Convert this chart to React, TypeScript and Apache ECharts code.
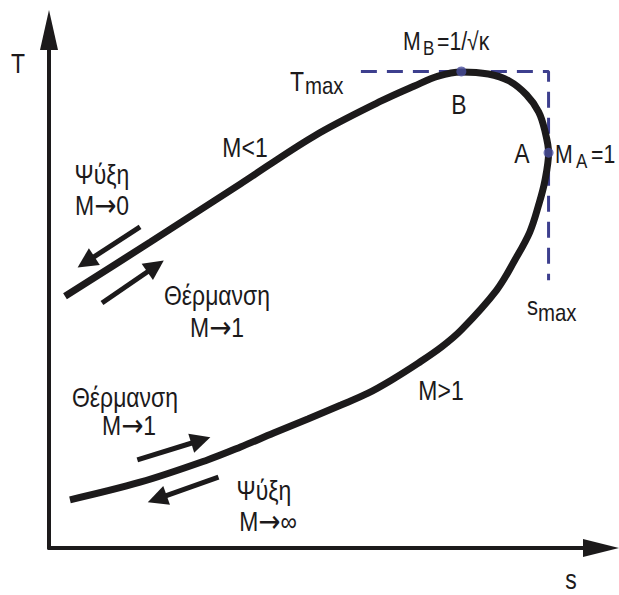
import React, { useEffect, useRef } from "react";
import * as echarts from "echarts";

// Rayleigh line in the T-s plane (s: 0..10, T: 0..10 in arbitrary units)
const curveS = [0.29, 1.84, 3.47, 4.8, 6.02, 6.62, 7.05, 7.47, 7.96, 8.33, 8.65, 8.87, 8.98, 9.05, 8.98, 8.87, 8.71, 8.44, 8.11, 7.47, 7.11, 6.69, 6.2, 5.78, 5.29, 4.69, 4.07, 3.47, 2.87, 1.65, 0.38];
const curveT = [4.86, 5.91, 7.03, 7.95, 8.63, 8.92, 9.11, 9.19, 9.15, 9.02, 8.75, 8.42, 8.07, 7.63, 7.07, 6.62, 6.1, 5.56, 4.98, 4.21, 3.88, 3.57, 3.24, 2.99, 2.76, 2.49, 2.22, 1.95, 1.7, 1.27, 0.93];

// Point B (max T) and point A (max s)
const pointB = [7.47, 9.2];
const pointA = [9.05, 7.63];

// dashed guide: Tmax horizontal, smax vertical
const guideS = [5.65, 9.05, 9.05];
const guideT = [9.2, 9.2, 5.17];

// process arrows: [sStart, TStart, sEnd, TEnd]
const arrowCoolUpper = [1.65, 6.2, 0.67, 5.52];
const arrowHeatUpper = [0.96, 4.73, 1.93, 5.44];
const arrowHeatLower = [1.6, 1.7, 2.75, 2.08];
const arrowCoolLower = [3.07, 1.37, 1.96, 0.95];

const FONT = "'Liberation Sans', Arial, sans-serif";
const INK = "#1c1a1b";
const NAVY = "#3d3f8e";
const SX = 0.85;

function txt(text: string, x: number, y: number, size: number, align = "center") {
  return {
    type: "text",
    x,
    y,
    scaleX: SX,
    silent: true,
    style: {
      text,
      fontSize: size,
      fontFamily: FONT,
      fill: INK,
      align,
      verticalAlign: "middle",
      rich: {
        ar: { fontFamily: "'DejaVu Sans'", fontSize: 31, fill: INK, verticalAlign: "middle" },
        n: { fontFamily: FONT, fontSize: size, fill: INK, verticalAlign: "middle" },
      },
    },
  };
}

function arrow(a: number[]) {
  return { coords: [[a[0], a[1]], [a[2], a[3]]] };
}

export default function App() {
  const ref = useRef<HTMLDivElement>(null);
  useEffect(() => {
    if (!ref.current) return;
    const chart = echarts.init(ref.current, null, { renderer: "svg" });
    const curve = curveS.map((s, i) => [s, curveT[i]]);
    const guide = guideS.map((s, i) => [s, guideT[i]]);
    const axisCommon = {
      type: "value",
      min: 0,
      max: 10,
      axisLine: {
        show: true,
        symbol: ["none", "triangle"],
        lineStyle: { color: INK, width: 4 },
      },
      axisTick: { show: false },
      axisLabel: { show: false },
      splitLine: { show: false },
    };
    chart.setOption({
      animation: false,
      backgroundColor: "#ffffff",
      grid: { left: 49, right: 18, top: 30, bottom: 47 },
      xAxis: { ...axisCommon, axisLine: { ...axisCommon.axisLine, symbolSize: [18, 36] } },
      yAxis: { ...axisCommon, axisLine: { ...axisCommon.axisLine, symbolSize: [18, 40] } },
      series: [
        {
          type: "line",
          data: guide,
          showSymbol: false,
          lineStyle: { color: NAVY, width: 3, type: [16, 10] },
          z: 2,
        },
        {
          type: "line",
          data: curve,
          smooth: 0.35,
          showSymbol: false,
          lineStyle: { color: INK, width: 7 },
          z: 3,
        },
        {
          type: "scatter",
          data: [pointB, pointA],
          symbolSize: 10,
          itemStyle: { color: "#4a4f9e" },
          z: 4,
        },
        {
          type: "lines",
          coordinateSystem: "cartesian2d",
          symbol: ["none", "triangle"],
          symbolSize: [14, 20],
          lineStyle: { color: INK, width: 5, opacity: 1, curveness: 0 },
          data: [arrow(arrowCoolUpper), arrow(arrowHeatUpper), arrow(arrowHeatLower), arrow(arrowCoolLower)],
          z: 3,
        },
      ],
      graphic: [
        txt("T", 18, 63, 27),
        txt("s", 571, 579, 27),
        txt("M<1", 245, 147, 27),
        txt("M>1", 441, 390, 27),
        txt("Ψύξη", 102, 174, 27),
        txt("{n|M}{ar|→}{n|0}", 102, 205, 27),
        txt("Θέρμανση", 217, 295, 27),
        txt("{n|M}{ar|→}{n|1}", 217, 327, 27),
        txt("Θέρμανση", 125, 397, 27),
        txt("{n|M}{ar|→}{n|1}", 129, 425, 27),
        txt("Ψύξη", 264, 490, 27),
        txt("{n|M}{ar|→}{n|∞}", 268, 521, 27),
        txt("B", 459, 104, 27),
        txt("A", 522, 153, 27),
        // Tmax
        txt("T", 290, 81, 27, "left"),
        txt("max", 305, 86, 24, "left"),
        // smax
        txt("s", 527, 306, 26, "left"),
        txt("max", 538, 313, 24, "left"),
        // MB = 1/√κ
        txt("M", 403, 41, 25, "left"),
        txt("B", 423, 48, 20, "left"),
        txt("=1/√κ", 437, 41, 25, "left"),
        // MA = 1
        txt("M", 555, 154, 25, "left"),
        txt("A", 576, 161, 20, "left"),
        txt("=1", 591, 154, 25, "left"),
      ],
    });
    return () => chart.dispose();
  }, []);
  return (
    <div
      ref={ref}
      style={{ position: "absolute", left: 0, top: 0, width: 619, height: 595, background: "#fff" }}
    />
  );
}
